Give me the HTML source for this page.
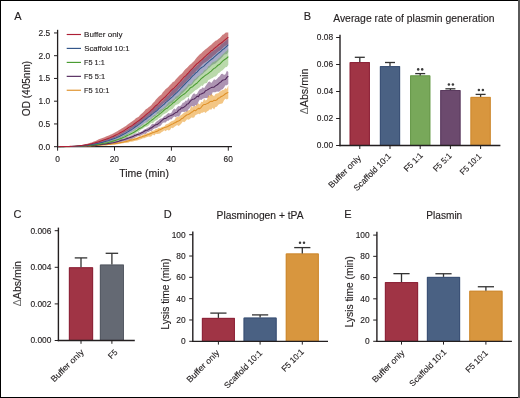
<!DOCTYPE html>
<html><head><meta charset="utf-8"><style>
html,body{margin:0;padding:0;background:#fff;}
body{width:520px;height:398px;overflow:hidden;}
svg{display:block;will-change:transform;font-family:"Liberation Sans", sans-serif;fill:#231f20;}
text{stroke:#231f20;stroke-width:0.14px;}
.dl{fill:#6a6a6a;stroke:none;}
</style></head><body>
<svg width="520" height="398" viewBox="0 0 520 398">
<rect x="0" y="0" width="520" height="398" fill="#fff"/>
<g fill="#231f20" stroke-linejoin="round">
<line x1="57.6" y1="29.8" x2="57.6" y2="147.39999999999998" stroke="#231f20" stroke-width="1.3"/>
<line x1="57.0" y1="146.7" x2="232" y2="146.7" stroke="#231f20" stroke-width="1.3"/>
<defs><clipPath id="ca"><rect x="58.2" y="32.6" width="172" height="115"/></clipPath></defs>
<g clip-path="url(#ca)">
<polygon points="57.60,146.70 59.02,146.65 60.45,146.60 61.87,146.56 63.29,146.52 64.71,146.48 66.14,146.43 67.56,146.38 68.98,146.32 70.40,146.25 71.83,146.17 73.25,146.07 74.67,145.94 76.09,145.78 77.52,145.59 78.94,145.38 80.36,145.16 81.78,144.91 83.20,144.63 84.63,144.35 86.05,144.05 87.47,143.74 88.90,143.31 90.32,142.87 91.74,142.41 93.16,141.87 94.59,141.24 96.01,140.64 97.43,140.02 98.85,139.36 100.28,138.84 101.70,138.31 103.12,137.79 104.54,137.20 105.97,136.61 107.39,136.05 108.81,135.48 110.23,134.83 111.66,134.15 113.08,133.54 114.50,132.84 115.92,131.96 117.34,131.20 118.77,130.36 120.19,129.44 121.61,128.57 123.03,127.69 124.46,126.71 125.88,125.92 127.30,124.82 128.72,123.79 130.15,122.76 131.57,121.81 132.99,120.82 134.42,119.70 135.84,118.32 137.26,117.42 138.68,116.78 140.11,115.12 141.53,113.66 142.95,112.42 144.37,110.99 145.80,109.35 147.22,108.61 148.64,107.30 150.06,106.37 151.49,104.98 152.91,103.07 154.33,101.68 155.75,99.79 157.18,98.33 158.60,96.72 160.02,95.45 161.44,94.38 162.87,92.31 164.29,90.72 165.71,89.06 167.13,88.10 168.56,86.63 169.98,85.06 171.40,83.85 172.82,82.04 174.25,81.43 175.67,79.42 177.09,78.11 178.51,76.56 179.94,74.95 181.36,73.90 182.78,72.62 184.20,70.51 185.62,68.98 187.05,67.68 188.47,66.31 189.89,64.63 191.31,63.71 192.74,62.29 194.16,60.94 195.58,59.05 197.00,57.21 198.43,55.70 199.85,54.26 201.27,53.29 202.69,51.84 204.12,50.47 205.54,49.22 206.96,48.16 208.38,46.98 209.81,45.87 211.23,44.84 212.65,43.16 214.08,41.97 215.50,40.85 216.92,40.34 218.34,39.03 219.77,38.02 221.19,36.46 222.61,34.64 224.03,34.22 225.46,32.40 226.88,31.45 228.30,30.40 228.30,43.64 226.88,45.32 225.46,45.65 224.03,46.68 222.61,48.14 221.19,49.68 219.77,50.78 218.34,51.45 216.92,52.77 215.50,54.20 214.08,55.24 212.65,56.46 211.23,57.93 209.81,58.72 208.38,60.16 206.96,61.17 205.54,62.15 204.12,63.11 202.69,64.30 201.27,65.79 199.85,67.35 198.43,68.93 197.00,70.33 195.58,71.71 194.16,73.48 192.74,74.56 191.31,76.24 189.89,78.08 188.47,79.37 187.05,80.57 185.62,82.57 184.20,83.81 182.78,85.45 181.36,86.83 179.94,87.87 178.51,89.22 177.09,91.18 175.67,92.83 174.25,94.07 172.82,95.17 171.40,96.11 169.98,97.74 168.56,99.28 167.13,100.78 165.71,101.62 164.29,102.82 162.87,104.12 161.44,105.13 160.02,106.66 158.60,108.11 157.18,109.45 155.75,110.88 154.33,112.04 152.91,112.74 151.49,114.59 150.06,115.25 148.64,116.48 147.22,117.80 145.80,119.09 144.37,119.77 142.95,121.06 141.53,122.20 140.11,123.35 138.68,123.90 137.26,125.05 135.84,126.28 134.42,126.77 132.99,127.73 131.57,128.81 130.15,129.74 128.72,130.56 127.30,131.34 125.88,132.04 124.46,132.72 123.03,133.67 121.61,134.57 120.19,135.22 118.77,135.96 117.34,136.66 115.92,137.34 114.50,137.94 113.08,138.53 111.66,139.22 110.23,139.80 108.81,140.19 107.39,140.70 105.97,141.20 104.54,141.71 103.12,142.13 101.70,142.64 100.28,143.00 98.85,143.24 97.43,143.55 96.01,143.82 94.59,144.16 93.16,144.46 91.74,144.72 90.32,144.89 88.90,145.16 87.47,145.32 86.05,145.47 84.63,145.60 83.20,145.73 81.78,145.88 80.36,145.99 78.94,146.10 77.52,146.19 76.09,146.27 74.67,146.35 73.25,146.40 71.83,146.45 70.40,146.49 68.98,146.52 67.56,146.55 66.14,146.57 64.71,146.60 63.29,146.61 61.87,146.63 60.45,146.66 59.02,146.68 57.60,146.70" fill="rgba(172,40,40,0.6)"/>
<polygon points="57.60,146.70 59.02,146.67 60.45,146.63 61.87,146.61 63.29,146.58 64.71,146.55 66.14,146.51 67.56,146.48 68.98,146.44 70.40,146.40 71.83,146.34 73.25,146.27 74.67,146.18 76.09,146.07 77.52,145.94 78.94,145.80 80.36,145.63 81.78,145.47 83.20,145.29 84.63,145.10 86.05,144.90 87.47,144.68 88.90,144.43 90.32,144.15 91.74,143.83 93.16,143.51 94.59,143.22 96.01,142.80 97.43,142.45 98.85,141.98 100.28,141.66 101.70,141.26 103.12,140.80 104.54,140.26 105.97,139.68 107.39,139.05 108.81,138.65 110.23,138.15 111.66,137.73 113.08,137.11 114.50,136.56 115.92,135.91 117.34,135.46 118.77,134.72 120.19,133.95 121.61,132.97 123.03,132.23 124.46,131.22 125.88,130.57 127.30,129.73 128.72,128.67 130.15,127.35 131.57,126.62 132.99,125.84 134.42,124.31 135.84,123.39 137.26,122.52 138.68,121.20 140.11,119.79 141.53,118.77 142.95,117.87 144.37,117.04 145.80,115.77 147.22,114.16 148.64,113.36 150.06,111.72 151.49,110.51 152.91,109.03 154.33,107.43 155.75,107.02 157.18,105.14 158.60,104.83 160.02,103.44 161.44,101.96 162.87,101.06 164.29,99.14 165.71,97.73 167.13,96.12 168.56,95.21 169.98,93.60 171.40,91.48 172.82,89.60 174.25,88.96 175.67,87.88 177.09,86.12 178.51,84.80 179.94,83.09 181.36,81.44 182.78,80.15 184.20,78.45 185.62,76.72 187.05,74.69 188.47,73.70 189.89,71.93 191.31,70.70 192.74,69.02 194.16,67.90 195.58,67.09 197.00,65.56 198.43,64.40 199.85,62.54 201.27,61.43 202.69,59.82 204.12,58.55 205.54,57.49 206.96,56.28 208.38,54.64 209.81,53.39 211.23,52.21 212.65,51.32 214.08,50.20 215.50,49.45 216.92,47.90 218.34,46.81 219.77,46.13 221.19,44.22 222.61,43.37 224.03,42.30 225.46,40.89 226.88,40.09 228.30,38.26 228.30,52.03 226.88,53.93 225.46,54.13 224.03,54.76 222.61,56.76 221.19,58.16 219.77,59.53 218.34,60.70 216.92,61.96 215.50,63.47 214.08,64.06 212.65,64.84 211.23,65.75 209.81,67.59 208.38,68.19 206.96,69.98 205.54,71.32 204.12,72.39 202.69,74.05 201.27,75.10 199.85,76.09 198.43,77.49 197.00,79.24 195.58,80.32 194.16,81.70 192.74,83.87 191.31,85.14 189.89,85.97 188.47,86.74 187.05,88.87 185.62,90.32 184.20,91.59 182.78,93.11 181.36,93.94 179.94,95.67 178.51,97.15 177.09,98.54 175.67,99.08 174.25,100.59 172.82,102.40 171.40,103.09 169.98,103.97 168.56,105.60 167.13,106.50 165.71,107.78 164.29,108.85 162.87,110.03 161.44,111.45 160.02,112.29 158.60,113.70 157.18,113.89 155.75,115.46 154.33,116.46 152.91,117.29 151.49,118.75 150.06,119.84 148.64,121.04 147.22,121.96 145.80,122.63 144.37,123.36 142.95,124.70 141.53,125.83 140.11,126.88 138.68,127.90 137.26,128.51 135.84,129.39 134.42,130.41 132.99,131.28 131.57,132.05 130.15,133.08 128.72,133.76 127.30,134.63 125.88,135.39 124.46,136.06 123.03,136.82 121.61,137.46 120.19,138.22 118.77,138.85 117.34,139.54 115.92,140.05 114.50,140.49 113.08,141.07 111.66,141.58 110.23,141.95 108.81,142.41 107.39,142.71 105.97,143.07 104.54,143.44 103.12,143.68 101.70,143.84 100.28,144.05 98.85,144.30 97.43,144.44 96.01,144.70 94.59,144.91 93.16,145.10 91.74,145.25 90.32,145.38 88.90,145.51 87.47,145.65 86.05,145.78 84.63,145.86 83.20,145.96 81.78,146.04 80.36,146.15 78.94,146.23 77.52,146.30 76.09,146.37 74.67,146.43 73.25,146.48 71.83,146.52 70.40,146.55 68.98,146.57 67.56,146.59 66.14,146.60 64.71,146.62 63.29,146.64 61.87,146.65 60.45,146.67 59.02,146.68 57.60,146.70" fill="rgba(80,85,145,0.5)"/>
<polygon points="57.60,146.70 59.02,146.67 60.45,146.65 61.87,146.63 63.29,146.60 64.71,146.58 66.14,146.55 67.56,146.52 68.98,146.49 70.40,146.46 71.83,146.42 73.25,146.36 74.67,146.30 76.09,146.23 77.52,146.15 78.94,146.06 80.36,145.96 81.78,145.85 83.20,145.73 84.63,145.60 86.05,145.47 87.47,145.31 88.90,145.17 90.32,144.98 91.74,144.78 93.16,144.62 94.59,144.38 96.01,144.14 97.43,143.88 98.85,143.61 100.28,143.25 101.70,143.01 103.12,142.74 104.54,142.36 105.97,142.04 107.39,141.70 108.81,141.33 110.23,140.91 111.66,140.33 113.08,139.93 114.50,139.53 115.92,139.14 117.34,138.70 118.77,138.18 120.19,137.33 121.61,136.71 123.03,135.92 124.46,135.04 125.88,134.69 127.30,133.75 128.72,133.10 130.15,132.46 131.57,131.65 132.99,130.63 134.42,129.74 135.84,128.75 137.26,127.78 138.68,126.90 140.11,126.19 141.53,124.92 142.95,124.19 144.37,123.33 145.80,122.65 147.22,120.77 148.64,119.38 150.06,119.23 151.49,118.07 152.91,116.34 154.33,114.88 155.75,115.02 157.18,112.03 158.60,111.40 160.02,109.81 161.44,109.28 162.87,108.80 164.29,107.27 165.71,106.17 167.13,104.16 168.56,102.29 169.98,101.69 171.40,101.05 172.82,99.77 174.25,98.89 175.67,96.83 177.09,95.91 178.51,95.28 179.94,93.50 181.36,91.39 182.78,90.42 184.20,89.23 185.62,87.96 187.05,86.50 188.47,84.00 189.89,84.46 191.31,84.05 192.74,81.81 194.16,79.60 195.58,78.81 197.00,77.23 198.43,75.99 199.85,75.19 201.27,73.50 202.69,72.67 204.12,70.21 205.54,69.75 206.96,68.88 208.38,65.88 209.81,65.85 211.23,63.84 212.65,62.36 214.08,61.75 215.50,61.06 216.92,60.28 218.34,58.44 219.77,57.47 221.19,55.95 222.61,54.59 224.03,53.22 225.46,51.82 226.88,50.82 228.30,48.59 228.30,64.81 226.88,67.08 225.46,67.16 224.03,68.67 222.61,70.18 221.19,71.04 219.77,72.62 218.34,73.25 216.92,75.14 215.50,76.55 214.08,76.79 212.65,77.90 211.23,78.61 209.81,79.40 208.38,80.08 206.96,82.97 205.54,83.27 204.12,83.78 202.69,85.95 201.27,85.50 199.85,87.26 198.43,88.28 197.00,89.58 195.58,90.09 194.16,91.33 192.74,92.40 191.31,93.73 189.89,94.82 188.47,97.40 187.05,96.89 185.62,98.30 184.20,99.43 182.78,100.34 181.36,101.09 179.94,102.70 178.51,104.01 177.09,104.58 175.67,105.12 174.25,106.84 172.82,108.78 171.40,109.44 169.98,109.95 168.56,111.06 167.13,112.41 165.71,113.27 164.29,114.07 162.87,114.84 161.44,116.45 160.02,117.77 158.60,118.23 157.18,119.95 155.75,120.48 154.33,121.50 152.91,123.33 151.49,123.10 150.06,124.08 148.64,125.44 147.22,126.44 145.80,126.81 144.37,127.43 142.95,128.70 141.53,129.20 140.11,130.46 138.68,131.69 137.26,132.06 135.84,133.19 134.42,133.85 132.99,134.58 131.57,135.39 130.15,135.80 128.72,136.44 127.30,137.27 125.88,138.02 124.46,138.48 123.03,139.17 121.61,139.54 120.19,140.13 118.77,140.62 117.34,141.16 115.92,141.61 114.50,142.08 113.08,142.53 111.66,142.55 110.23,142.97 108.81,143.26 107.39,143.50 105.97,143.86 104.54,144.03 103.12,144.22 101.70,144.36 100.28,144.65 98.85,144.77 97.43,144.88 96.01,145.03 94.59,145.19 93.16,145.38 91.74,145.51 90.32,145.59 88.90,145.70 87.47,145.78 86.05,145.91 84.63,145.98 83.20,146.07 81.78,146.15 80.36,146.22 78.94,146.29 77.52,146.35 76.09,146.40 74.67,146.45 73.25,146.49 71.83,146.52 70.40,146.55 68.98,146.57 67.56,146.59 66.14,146.61 64.71,146.62 63.29,146.64 61.87,146.65 60.45,146.67 59.02,146.68 57.60,146.70" fill="rgba(110,175,80,0.48)"/>
<polygon points="57.60,146.70 59.02,146.68 60.45,146.66 61.87,146.64 63.29,146.62 64.71,146.60 66.14,146.58 67.56,146.56 68.98,146.54 70.40,146.51 71.83,146.48 73.25,146.45 74.67,146.40 76.09,146.33 77.52,146.30 78.94,146.23 80.36,146.15 81.78,146.09 83.20,146.01 84.63,145.91 86.05,145.80 87.47,145.71 88.90,145.58 90.32,145.46 91.74,145.34 93.16,145.20 94.59,145.09 96.01,144.87 97.43,144.61 98.85,144.41 100.28,144.17 101.70,143.90 103.12,143.74 104.54,143.59 105.97,143.44 107.39,143.19 108.81,142.98 110.23,142.36 111.66,142.09 113.08,141.70 114.50,141.61 115.92,141.10 117.34,140.77 118.77,140.13 120.19,139.47 121.61,138.99 123.03,138.87 124.46,138.58 125.88,137.56 127.30,137.07 128.72,136.73 130.15,136.06 131.57,135.50 132.99,134.79 134.42,133.84 135.84,133.58 137.26,133.36 138.68,131.95 140.11,132.13 141.53,131.39 142.95,130.45 144.37,129.44 145.80,128.95 147.22,127.88 148.64,127.16 150.06,126.42 151.49,124.51 152.91,123.82 154.33,123.95 155.75,122.28 157.18,120.95 158.60,120.13 160.02,118.82 161.44,118.50 162.87,117.67 164.29,115.98 165.71,115.46 167.13,114.10 168.56,113.02 169.98,113.49 171.40,112.70 172.82,110.09 174.25,108.50 175.67,109.48 177.09,107.36 178.51,106.08 179.94,106.37 181.36,105.05 182.78,102.75 184.20,102.42 185.62,100.53 187.05,100.76 188.47,97.69 189.89,100.04 191.31,96.99 192.74,94.49 194.16,93.34 195.58,94.46 197.00,93.70 198.43,91.30 199.85,89.18 201.27,89.11 202.69,87.17 204.12,88.24 205.54,85.88 206.96,83.96 208.38,82.07 209.81,81.38 211.23,83.00 212.65,81.16 214.08,79.23 215.50,79.98 216.92,78.91 218.34,77.34 219.77,76.17 221.19,74.12 222.61,73.74 224.03,75.02 225.46,74.28 226.88,70.87 228.30,71.94 228.30,84.08 226.88,85.23 225.46,85.35 224.03,87.58 222.61,89.29 221.19,89.86 219.77,91.18 218.34,91.72 216.92,91.42 215.50,92.27 214.08,92.23 212.65,92.21 211.23,96.23 209.81,95.02 208.38,97.52 206.96,97.99 205.54,97.93 204.12,98.22 202.69,98.86 201.27,100.05 199.85,99.53 198.43,101.89 197.00,105.78 195.58,105.00 194.16,106.87 192.74,106.33 191.31,106.12 189.89,107.92 188.47,109.35 187.05,112.04 185.62,111.47 184.20,111.88 182.78,111.79 181.36,112.33 179.94,115.33 178.51,116.65 177.09,116.35 175.67,117.13 174.25,116.57 172.82,117.63 171.40,119.62 169.98,119.18 168.56,120.74 167.13,120.65 165.71,122.38 164.29,122.52 162.87,122.71 161.44,124.75 160.02,126.18 158.60,126.48 157.18,127.84 155.75,128.37 154.33,128.49 152.91,129.41 151.49,130.88 150.06,130.91 148.64,131.90 147.22,132.37 145.80,133.91 144.37,133.69 142.95,134.53 141.53,135.07 140.11,135.95 138.68,136.00 137.26,136.55 135.84,137.29 134.42,138.03 132.99,138.42 131.57,139.64 130.15,140.09 128.72,139.79 127.30,140.46 125.88,140.89 124.46,141.06 123.03,141.50 121.61,142.13 120.19,142.55 118.77,142.78 117.34,143.11 115.92,143.31 114.50,143.66 113.08,143.91 111.66,143.95 110.23,144.20 108.81,144.13 107.39,144.36 105.97,144.59 104.54,144.88 103.12,144.90 101.70,144.99 100.28,145.18 98.85,145.28 97.43,145.51 96.01,145.66 94.59,145.75 93.16,145.81 91.74,145.87 90.32,145.98 88.90,146.04 87.47,146.11 86.05,146.16 84.63,146.25 83.20,146.30 81.78,146.35 80.36,146.38 78.94,146.41 77.52,146.45 76.09,146.49 74.67,146.51 73.25,146.54 71.83,146.56 70.40,146.58 68.98,146.60 67.56,146.61 66.14,146.63 64.71,146.64 63.29,146.65 61.87,146.66 60.45,146.67 59.02,146.69 57.60,146.70" fill="rgba(105,60,115,0.55)"/>
<polygon points="57.60,146.70 59.02,146.68 60.45,146.67 61.87,146.65 63.29,146.64 64.71,146.63 66.14,146.62 67.56,146.60 68.98,146.59 70.40,146.56 71.83,146.54 73.25,146.51 74.67,146.48 76.09,146.45 77.52,146.41 78.94,146.37 80.36,146.30 81.78,146.25 83.20,146.20 84.63,146.09 86.05,146.04 87.47,145.99 88.90,145.90 90.32,145.78 91.74,145.68 93.16,145.55 94.59,145.42 96.01,145.26 97.43,145.12 98.85,144.91 100.28,144.73 101.70,144.67 103.12,144.48 104.54,144.38 105.97,144.13 107.39,144.06 108.81,143.87 110.23,143.73 111.66,143.47 113.08,143.42 114.50,143.01 115.92,142.79 117.34,142.55 118.77,142.40 120.19,141.90 121.61,141.70 123.03,141.13 124.46,140.98 125.88,140.55 127.30,140.17 128.72,139.48 130.15,138.93 131.57,138.74 132.99,138.53 134.42,137.68 135.84,137.80 137.26,137.33 138.68,136.45 140.11,135.96 141.53,135.39 142.95,135.03 144.37,133.89 145.80,133.89 147.22,133.04 148.64,132.85 150.06,132.31 151.49,130.88 152.91,130.71 154.33,130.29 155.75,129.02 157.18,128.93 158.60,127.75 160.02,128.06 161.44,127.25 162.87,126.72 164.29,126.44 165.71,124.49 167.13,123.97 168.56,123.58 169.98,122.24 171.40,121.19 172.82,120.79 174.25,120.31 175.67,118.06 177.09,116.79 178.51,117.30 179.94,115.64 181.36,114.98 182.78,113.74 184.20,112.41 185.62,111.94 187.05,111.27 188.47,110.24 189.89,109.81 191.31,105.86 192.74,107.46 194.16,106.30 195.58,106.02 197.00,104.75 198.43,103.14 199.85,104.54 201.27,101.84 202.69,101.89 204.12,98.76 205.54,100.57 206.96,99.82 208.38,95.13 209.81,95.91 211.23,94.08 212.65,95.01 214.08,96.23 215.50,94.09 216.92,93.47 218.34,93.27 219.77,91.76 221.19,90.67 222.61,89.92 224.03,89.72 225.46,88.03 226.88,88.94 228.30,85.21 228.30,98.50 226.88,99.43 225.46,98.78 224.03,100.24 222.61,103.24 221.19,103.65 219.77,103.95 218.34,104.84 216.92,106.82 215.50,107.12 214.08,109.45 212.65,107.79 211.23,109.71 209.81,109.33 208.38,110.64 206.96,111.43 205.54,112.92 204.12,111.79 202.69,112.77 201.27,112.76 199.85,114.15 198.43,113.83 197.00,114.48 195.58,114.99 194.16,117.57 192.74,117.70 191.31,117.45 189.89,118.97 188.47,119.71 187.05,119.34 185.62,121.00 184.20,122.29 182.78,121.56 181.36,123.45 179.94,125.01 178.51,125.93 177.09,124.88 175.67,126.09 174.25,127.01 172.82,128.14 171.40,127.66 169.98,130.08 168.56,130.43 167.13,129.63 165.71,131.25 164.29,130.15 162.87,131.39 161.44,132.14 160.02,133.55 158.60,133.86 157.18,133.94 155.75,133.82 154.33,135.38 152.91,134.61 151.49,136.24 150.06,136.73 148.64,136.42 147.22,136.94 145.80,137.53 144.37,138.24 142.95,138.29 141.53,139.11 140.11,139.61 138.68,140.05 137.26,140.60 135.84,140.73 134.42,141.01 132.99,141.47 131.57,141.72 130.15,141.87 128.72,142.44 127.30,142.70 125.88,142.89 124.46,143.04 123.03,143.37 121.61,143.51 120.19,143.77 118.77,143.88 117.34,144.13 115.92,144.43 114.50,144.64 113.08,144.67 111.66,144.75 110.23,144.90 108.81,145.05 107.39,145.14 105.97,145.26 104.54,145.34 103.12,145.38 101.70,145.44 100.28,145.56 98.85,145.70 97.43,145.73 96.01,145.86 94.59,145.91 93.16,145.98 91.74,146.06 90.32,146.14 88.90,146.20 87.47,146.29 86.05,146.32 84.63,146.37 83.20,146.41 81.78,146.41 80.36,146.46 78.94,146.50 77.52,146.51 76.09,146.53 74.67,146.57 73.25,146.59 71.83,146.60 70.40,146.62 68.98,146.63 67.56,146.64 66.14,146.65 64.71,146.66 63.29,146.67 61.87,146.67 60.45,146.68 59.02,146.69 57.60,146.70" fill="rgba(235,160,50,0.6)"/>
<polyline points="57.60,146.70 59.02,146.69 60.45,146.67 61.87,146.66 63.29,146.65 64.71,146.64 66.14,146.63 67.56,146.61 68.98,146.60 70.40,146.58 71.83,146.56 73.25,146.54 74.67,146.52 76.09,146.48 77.52,146.45 78.94,146.41 80.36,146.37 81.78,146.32 83.20,146.27 84.63,146.21 86.05,146.16 87.47,146.08 88.90,146.02 90.32,145.91 91.74,145.81 93.16,145.72 94.59,145.64 96.01,145.51 97.43,145.38 98.85,145.26 100.28,145.10 101.70,144.98 103.12,144.83 104.54,144.75 105.97,144.63 107.39,144.50 108.81,144.33 110.23,144.17 111.66,143.97 113.08,143.82 114.50,143.64 115.92,143.37 117.34,143.22 118.77,142.92 120.19,142.64 121.61,142.40 123.03,142.20 124.46,141.83 125.88,141.50 127.30,141.13 128.72,140.66 130.15,140.30 131.57,140.02 132.99,139.70 134.42,139.30 135.84,138.88 137.26,138.62 138.68,137.74 140.11,137.21 141.53,136.90 142.95,136.32 144.37,135.90 145.80,135.61 147.22,134.79 148.64,134.44 150.06,133.69 151.49,133.35 152.91,132.58 154.33,132.20 155.75,131.63 157.18,131.34 158.60,130.29 160.02,129.64 161.44,129.06 162.87,128.25 164.29,127.61 165.71,127.23 167.13,126.86 168.56,126.01 169.98,125.34 171.40,124.32 172.82,123.91 174.25,123.04 175.67,122.52 177.09,121.47 178.51,120.90 179.94,120.26 181.36,118.85 182.78,118.25 184.20,116.95 185.62,115.78 187.05,114.80 188.47,114.49 189.89,113.55 191.31,112.32 192.74,111.75 194.16,110.18 195.58,110.77 197.00,109.39 198.43,108.38 199.85,108.64 201.27,107.31 202.69,105.40 204.12,104.43 205.54,104.41 206.96,103.65 208.38,102.97 209.81,101.86 211.23,101.34 212.65,101.47 214.08,100.16 215.50,100.52 216.92,99.81 218.34,98.20 219.77,97.66 221.19,96.49 222.61,95.90 224.03,94.95 225.46,93.73 226.88,93.06 228.30,92.39" fill="none" stroke="#df9028" stroke-width="1.05" stroke-linejoin="round"/>
<polyline points="57.60,146.70 59.02,146.68 60.45,146.67 61.87,146.65 63.29,146.64 64.71,146.62 66.14,146.60 67.56,146.58 68.98,146.57 70.40,146.55 71.83,146.52 73.25,146.48 74.67,146.45 76.09,146.41 77.52,146.37 78.94,146.31 80.36,146.24 81.78,146.18 83.20,146.12 84.63,146.05 86.05,145.97 87.47,145.89 88.90,145.82 90.32,145.68 91.74,145.52 93.16,145.44 94.59,145.28 96.01,145.17 97.43,145.00 98.85,144.77 100.28,144.63 101.70,144.48 103.12,144.30 104.54,144.12 105.97,143.88 107.39,143.63 108.81,143.39 110.23,143.15 111.66,142.91 113.08,142.73 114.50,142.44 115.92,142.08 117.34,141.65 118.77,141.32 120.19,140.85 121.61,140.37 123.03,139.95 124.46,139.60 125.88,139.09 127.30,138.54 128.72,138.05 130.15,137.39 131.57,136.95 132.99,136.61 134.42,135.59 135.84,135.27 137.26,134.55 138.68,134.14 140.11,133.62 141.53,132.81 142.95,132.17 144.37,131.24 145.80,130.30 147.22,130.18 148.64,129.62 150.06,128.26 151.49,127.88 152.91,126.78 154.33,125.63 155.75,124.78 157.18,124.60 158.60,123.38 160.02,122.37 161.44,120.80 162.87,119.62 164.29,118.48 165.71,118.58 167.13,117.41 168.56,116.54 169.98,115.89 171.40,115.28 172.82,114.74 174.25,113.59 175.67,112.59 177.09,112.33 178.51,110.12 179.94,109.59 181.36,107.85 182.78,107.86 184.20,106.96 185.62,105.85 187.05,104.09 188.47,103.64 189.89,101.67 191.31,100.14 192.74,99.16 194.16,98.98 195.58,97.78 197.00,96.33 198.43,96.61 199.85,94.34 201.27,94.05 202.69,93.25 204.12,92.67 205.54,90.75 206.96,90.13 208.38,89.29 209.81,88.36 211.23,87.59 212.65,87.35 214.08,87.15 215.50,85.89 216.92,85.02 218.34,83.99 219.77,82.58 221.19,81.71 222.61,80.16 224.03,79.86 225.46,79.39 226.88,77.40 228.30,76.05" fill="none" stroke="#52285c" stroke-width="1.05" stroke-linejoin="round"/>
<polyline points="57.60,146.70 59.02,146.68 60.45,146.66 61.87,146.64 63.29,146.62 64.71,146.60 66.14,146.58 67.56,146.56 68.98,146.54 70.40,146.51 71.83,146.48 73.25,146.43 74.67,146.38 76.09,146.32 77.52,146.25 78.94,146.18 80.36,146.09 81.78,145.99 83.20,145.89 84.63,145.80 86.05,145.70 87.47,145.59 88.90,145.46 90.32,145.32 91.74,145.15 93.16,144.98 94.59,144.80 96.01,144.59 97.43,144.38 98.85,144.14 100.28,143.95 101.70,143.72 103.12,143.47 104.54,143.23 105.97,142.94 107.39,142.64 108.81,142.30 110.23,141.92 111.66,141.59 113.08,141.13 114.50,140.74 115.92,140.33 117.34,139.81 118.77,139.31 120.19,138.70 121.61,138.17 123.03,137.56 124.46,136.92 125.88,136.23 127.30,135.52 128.72,134.88 130.15,134.16 131.57,133.43 132.99,132.73 134.42,131.94 135.84,131.05 137.26,130.21 138.68,129.01 140.11,128.30 141.53,127.68 142.95,126.58 144.37,125.54 145.80,124.76 147.22,123.59 148.64,122.72 150.06,121.42 151.49,120.29 152.91,119.30 154.33,118.04 155.75,116.93 157.18,115.95 158.60,114.90 160.02,113.65 161.44,112.65 162.87,111.34 164.29,109.97 165.71,108.82 167.13,108.26 168.56,106.86 169.98,105.70 171.40,104.58 172.82,103.16 174.25,102.26 175.67,100.91 177.09,99.67 178.51,98.45 179.94,97.11 181.36,95.88 182.78,94.85 184.20,94.04 185.62,92.81 187.05,91.40 188.47,90.11 189.89,88.21 191.31,87.20 192.74,86.69 194.16,85.24 195.58,84.05 197.00,83.25 198.43,81.53 199.85,80.15 201.27,78.58 202.69,77.49 204.12,76.35 205.54,75.17 206.96,74.41 208.38,73.33 209.81,72.20 211.23,71.12 212.65,69.68 214.08,68.37 215.50,67.72 216.92,66.25 218.34,64.93 219.77,64.20 221.19,62.60 222.61,61.15 224.03,59.95 225.46,59.02 226.88,57.99 228.30,56.69" fill="none" stroke="#4a9c32" stroke-width="1.05" stroke-linejoin="round"/>
<polyline points="57.60,146.70 59.02,146.67 60.45,146.65 61.87,146.63 63.29,146.61 64.71,146.58 66.14,146.56 67.56,146.53 68.98,146.50 70.40,146.47 71.83,146.43 73.25,146.37 74.67,146.30 76.09,146.22 77.52,146.13 78.94,146.02 80.36,145.89 81.78,145.76 83.20,145.61 84.63,145.47 86.05,145.33 87.47,145.16 88.90,144.97 90.32,144.77 91.74,144.55 93.16,144.30 94.59,144.02 96.01,143.74 97.43,143.44 98.85,143.15 100.28,142.82 101.70,142.48 103.12,142.17 104.54,141.78 105.97,141.36 107.39,140.98 108.81,140.55 110.23,140.04 111.66,139.55 113.08,139.04 114.50,138.50 115.92,137.94 117.34,137.32 118.77,136.66 120.19,135.98 121.61,135.24 123.03,134.48 124.46,133.74 125.88,132.95 127.30,132.12 128.72,131.29 130.15,130.31 131.57,129.66 132.99,128.58 134.42,127.49 135.84,126.53 137.26,125.69 138.68,124.60 140.11,123.56 141.53,122.60 142.95,121.40 144.37,120.15 145.80,119.25 147.22,118.08 148.64,116.92 150.06,115.98 151.49,114.76 152.91,113.70 154.33,112.36 155.75,111.53 157.18,110.39 158.60,108.78 160.02,107.67 161.44,106.43 162.87,105.13 164.29,104.08 165.71,102.45 167.13,101.40 168.56,100.19 169.98,98.77 171.40,97.53 172.82,96.33 174.25,94.87 175.67,93.51 177.09,92.30 178.51,90.98 179.94,89.29 181.36,87.76 182.78,86.37 184.20,84.94 185.62,83.36 187.05,81.93 188.47,80.45 189.89,79.05 191.31,77.36 192.74,75.96 194.16,74.62 195.58,73.05 197.00,72.13 198.43,70.40 199.85,68.84 201.27,67.76 202.69,66.88 204.12,65.80 205.54,64.31 206.96,63.13 208.38,61.93 209.81,60.66 211.23,59.51 212.65,58.55 214.08,57.11 215.50,55.89 216.92,54.54 218.34,53.38 219.77,52.29 221.19,51.10 222.61,49.66 224.03,48.80 225.46,47.44 226.88,46.25 228.30,44.68" fill="none" stroke="#33568a" stroke-width="1.05" stroke-linejoin="round"/>
<polyline points="57.60,146.70 59.02,146.67 60.45,146.63 61.87,146.60 63.29,146.58 64.71,146.55 66.14,146.51 67.56,146.48 68.98,146.44 70.40,146.39 71.83,146.34 73.25,146.27 74.67,146.18 76.09,146.07 77.52,145.94 78.94,145.80 80.36,145.63 81.78,145.46 83.20,145.27 84.63,145.09 86.05,144.88 87.47,144.65 88.90,144.39 90.32,144.06 91.74,143.71 93.16,143.33 94.59,142.94 96.01,142.52 97.43,142.13 98.85,141.68 100.28,141.22 101.70,140.76 103.12,140.30 104.54,139.81 105.97,139.33 107.39,138.79 108.81,138.18 110.23,137.63 111.66,136.99 113.08,136.45 114.50,135.75 115.92,135.08 117.34,134.38 118.77,133.62 120.19,132.73 121.61,131.98 123.03,131.16 124.46,130.44 125.88,129.43 127.30,128.47 128.72,127.41 130.15,126.61 131.57,125.91 132.99,124.93 134.42,123.77 135.84,122.79 137.26,121.64 138.68,120.77 140.11,119.61 141.53,118.47 142.95,117.36 144.37,116.23 145.80,114.91 147.22,113.66 148.64,112.67 150.06,111.43 151.49,109.86 152.91,108.73 154.33,107.23 155.75,105.70 157.18,104.75 158.60,103.34 160.02,101.65 161.44,100.13 162.87,98.98 164.29,97.55 165.71,96.46 167.13,94.75 168.56,93.33 169.98,91.73 171.40,90.23 172.82,88.86 174.25,87.83 175.67,86.26 177.09,84.82 178.51,83.26 179.94,81.76 181.36,80.07 182.78,78.49 184.20,76.97 185.62,75.78 187.05,74.25 188.47,72.87 189.89,71.17 191.31,69.73 192.74,68.24 194.16,66.70 195.58,65.17 197.00,63.65 198.43,62.70 199.85,61.28 201.27,60.14 202.69,58.80 204.12,57.40 205.54,56.20 206.96,54.75 208.38,53.70 209.81,52.41 211.23,50.82 212.65,50.20 214.08,48.66 215.50,47.50 216.92,46.37 218.34,45.01 219.77,43.98 221.19,43.03 222.61,41.98 224.03,40.56 225.46,39.53 226.88,38.39 228.30,37.20" fill="none" stroke="#ad1f35" stroke-width="1.05" stroke-linejoin="round"/>
</g>
<line x1="54" y1="146.7" x2="57.6" y2="146.7" stroke="#231f20" stroke-width="1"/>
<text x="50.26" y="149.59" font-size="8.4" text-anchor="end">0.0</text>
<line x1="54" y1="123.94999999999999" x2="57.6" y2="123.94999999999999" stroke="#231f20" stroke-width="1"/>
<text x="50.26" y="126.84" font-size="8.4" text-anchor="end">0.5</text>
<line x1="54" y1="101.19999999999999" x2="57.6" y2="101.19999999999999" stroke="#231f20" stroke-width="1"/>
<text x="50.26" y="104.09" font-size="8.4" text-anchor="end">1.0</text>
<line x1="54" y1="78.44999999999999" x2="57.6" y2="78.44999999999999" stroke="#231f20" stroke-width="1"/>
<text x="50.26" y="81.34" font-size="8.4" text-anchor="end">1.5</text>
<line x1="54" y1="55.69999999999999" x2="57.6" y2="55.69999999999999" stroke="#231f20" stroke-width="1"/>
<text x="50.26" y="58.59" font-size="8.4" text-anchor="end">2.0</text>
<line x1="54" y1="32.94999999999999" x2="57.6" y2="32.94999999999999" stroke="#231f20" stroke-width="1"/>
<text x="50.26" y="35.84" font-size="8.4" text-anchor="end">2.5</text>
<line x1="57.6" y1="146.7" x2="57.6" y2="150.7" stroke="#231f20" stroke-width="1"/>
<text x="57.47" y="161.60" font-size="8.4" text-anchor="middle">0</text>
<line x1="114.5" y1="146.7" x2="114.5" y2="150.7" stroke="#231f20" stroke-width="1"/>
<text x="114.37" y="161.60" font-size="8.4" text-anchor="middle">20</text>
<line x1="171.4" y1="146.7" x2="171.4" y2="150.7" stroke="#231f20" stroke-width="1"/>
<text x="171.27" y="161.60" font-size="8.4" text-anchor="middle">40</text>
<line x1="228.3" y1="146.7" x2="228.3" y2="150.7" stroke="#231f20" stroke-width="1"/>
<text x="228.17" y="161.60" font-size="8.4" text-anchor="middle">60</text>
<text x="17.95" y="20.3" font-size="11" text-anchor="middle">A</text>
<text x="144.07" y="176.8" font-size="10" text-anchor="middle" textLength="49.605" lengthAdjust="spacingAndGlyphs">Time (min)</text>
<text x="30.48" y="88.48" font-size="10" text-anchor="middle" textLength="55.416" lengthAdjust="spacingAndGlyphs" transform="rotate(-90 30.48 88.48)">OD (405nm)</text>
<line x1="66.7" y1="34.5" x2="81.0" y2="34.5" stroke="#ad1f35" stroke-width="1.15"/>
<text x="103.25" y="37.2" font-size="8" text-anchor="middle" textLength="38.399" lengthAdjust="spacingAndGlyphs">Buffer only</text>
<line x1="66.7" y1="48.4" x2="81.0" y2="48.4" stroke="#33568a" stroke-width="1.15"/>
<text x="106.85" y="51.1" font-size="8" text-anchor="middle" textLength="45.306" lengthAdjust="spacingAndGlyphs">Scaffold 10:1</text>
<line x1="66.7" y1="62.4" x2="81.0" y2="62.4" stroke="#4a9c32" stroke-width="1.15"/>
<text x="94.38" y="65.0" font-size="8" text-anchor="middle" textLength="20.73" lengthAdjust="spacingAndGlyphs">F5 1:1</text>
<line x1="66.7" y1="76.35" x2="81.0" y2="76.35" stroke="#52285c" stroke-width="1.15"/>
<text x="94.57" y="78.9" font-size="8" text-anchor="middle" textLength="21.13" lengthAdjust="spacingAndGlyphs">F5 5:1</text>
<line x1="66.7" y1="90.25" x2="81.0" y2="90.25" stroke="#df9028" stroke-width="1.15"/>
<text x="96.68" y="92.8" font-size="8" text-anchor="middle" textLength="25.279" lengthAdjust="spacingAndGlyphs">F5 10:1</text>
<text x="307.42" y="20.3" font-size="11" text-anchor="middle">B</text>
<text x="413.85" y="22.3" font-size="10" text-anchor="middle" textLength="161.273" lengthAdjust="spacingAndGlyphs">Average rate of plasmin generation</text>
<rect x="349.7" y="62.1" width="20.200000000000045" height="83.4" fill="#a03445"/>
<path d="M350.2,145.5 V62.6 H369.40000000000003 V145.5" fill="none" stroke="#8c2338" stroke-width="1" stroke-linejoin="miter"/>
<line x1="359.8" y1="62.1" x2="359.8" y2="57.3" stroke="#333" stroke-width="1.3"/>
<line x1="354.8" y1="57.3" x2="364.8" y2="57.3" stroke="#333" stroke-width="1.3"/>
<rect x="379.9" y="66.1" width="20.200000000000045" height="79.4" fill="#4a6183"/>
<path d="M380.4,145.5 V66.6 H399.6 V145.5" fill="none" stroke="#3a5075" stroke-width="1" stroke-linejoin="miter"/>
<line x1="390.0" y1="66.1" x2="390.0" y2="62.5" stroke="#333" stroke-width="1.3"/>
<line x1="385.0" y1="62.5" x2="395.0" y2="62.5" stroke="#333" stroke-width="1.3"/>
<rect x="410.09999999999997" y="75.4" width="20.200000000000045" height="70.1" fill="#78a85a"/>
<path d="M410.59999999999997,145.5 V75.9 H429.8 V145.5" fill="none" stroke="#68994b" stroke-width="1" stroke-linejoin="miter"/>
<line x1="420.2" y1="75.4" x2="420.2" y2="73.6" stroke="#333" stroke-width="1.3"/>
<line x1="415.2" y1="73.6" x2="425.2" y2="73.6" stroke="#333" stroke-width="1.3"/>
<rect x="440.29999999999995" y="90.0" width="20.200000000000045" height="55.5" fill="#6c4a6e"/>
<path d="M440.79999999999995,145.5 V90.5 H460.0 V145.5" fill="none" stroke="#5a3a5e" stroke-width="1" stroke-linejoin="miter"/>
<line x1="450.4" y1="90.0" x2="450.4" y2="88.8" stroke="#333" stroke-width="1.3"/>
<line x1="445.4" y1="88.8" x2="455.4" y2="88.8" stroke="#333" stroke-width="1.3"/>
<rect x="470.5" y="96.9" width="20.200000000000045" height="48.599999999999994" fill="#d8963e"/>
<path d="M471.0,145.5 V97.4 H490.20000000000005 V145.5" fill="none" stroke="#cd8930" stroke-width="1" stroke-linejoin="miter"/>
<line x1="480.6" y1="96.9" x2="480.6" y2="94.4" stroke="#333" stroke-width="1.3"/>
<line x1="475.6" y1="94.4" x2="485.6" y2="94.4" stroke="#333" stroke-width="1.3"/>
<ellipse cx="418.2" cy="69.39999999999999" rx="1.25" ry="1.3" fill="#3c3c3c"/>
<ellipse cx="422.2" cy="69.39999999999999" rx="1.25" ry="1.3" fill="#3c3c3c"/>
<ellipse cx="448.9" cy="84.5" rx="1.25" ry="1.3" fill="#3c3c3c"/>
<ellipse cx="452.9" cy="84.5" rx="1.25" ry="1.3" fill="#3c3c3c"/>
<ellipse cx="478.85" cy="90.0" rx="1.25" ry="1.3" fill="#3c3c3c"/>
<ellipse cx="482.85" cy="90.0" rx="1.25" ry="1.3" fill="#3c3c3c"/>
<line x1="340.0" y1="34.8" x2="340.0" y2="146.2" stroke="#231f20" stroke-width="1.4"/>
<line x1="339.3" y1="145.5" x2="500.4" y2="145.5" stroke="#231f20" stroke-width="1.3"/>
<line x1="336.1" y1="145.5" x2="340.0" y2="145.5" stroke="#231f20" stroke-width="1"/>
<text x="333.16" y="148.39" font-size="8.4" text-anchor="end">0.00</text>
<line x1="336.1" y1="118.5" x2="340.0" y2="118.5" stroke="#231f20" stroke-width="1"/>
<text x="333.16" y="121.39" font-size="8.4" text-anchor="end">0.02</text>
<line x1="336.1" y1="91.5" x2="340.0" y2="91.5" stroke="#231f20" stroke-width="1"/>
<text x="333.16" y="94.39" font-size="8.4" text-anchor="end">0.04</text>
<line x1="336.1" y1="64.5" x2="340.0" y2="64.5" stroke="#231f20" stroke-width="1"/>
<text x="333.16" y="67.39" font-size="8.4" text-anchor="end">0.06</text>
<line x1="336.1" y1="37.5" x2="340.0" y2="37.5" stroke="#231f20" stroke-width="1"/>
<text x="333.16" y="40.39" font-size="8.4" text-anchor="end">0.08</text>
<line x1="359.8" y1="145.5" x2="359.8" y2="149" stroke="#231f20" stroke-width="1"/>
<text x="346.62" y="173.52" font-size="8.5" text-anchor="middle" textLength="42.142" lengthAdjust="spacingAndGlyphs" transform="rotate(-45 346.62 173.52)">Buffer only</text>
<line x1="390.0" y1="145.5" x2="390.0" y2="149" stroke="#231f20" stroke-width="1"/>
<text x="374.3" y="174.08" font-size="8.5" text-anchor="middle" textLength="49.182" lengthAdjust="spacingAndGlyphs" transform="rotate(-45 374.3 174.08)">Scaffold 10:1</text>
<line x1="420.2" y1="145.5" x2="420.2" y2="149" stroke="#231f20" stroke-width="1"/>
<text x="415.3" y="164.08" font-size="8.5" text-anchor="middle" textLength="22.825" lengthAdjust="spacingAndGlyphs" transform="rotate(-45 415.3 164.08)">F5 1:1</text>
<line x1="450.4" y1="145.5" x2="450.4" y2="149" stroke="#231f20" stroke-width="1"/>
<text x="444.35" y="164.4" font-size="8.5" text-anchor="middle" textLength="22.33" lengthAdjust="spacingAndGlyphs" transform="rotate(-45 444.35 164.4)">F5 5:1</text>
<line x1="480.6" y1="145.5" x2="480.6" y2="149" stroke="#231f20" stroke-width="1"/>
<text x="472.65" y="166.2" font-size="8.5" text-anchor="middle" textLength="26.279" lengthAdjust="spacingAndGlyphs" transform="rotate(-45 472.65 166.2)">F5 10:1</text>
<text x="308.45" y="91.45" font-size="10" text-anchor="middle" textLength="45.804" lengthAdjust="spacingAndGlyphs" transform="rotate(-90 308.45 91.45)"><tspan class="dl">Δ</tspan>Abs/min</text>
<text x="17.6" y="217.6" font-size="11" text-anchor="middle">C</text>
<rect x="68.9" y="267.3" width="24.19999999999999" height="73.19999999999999" fill="#a03445"/>
<path d="M69.4,340.5 V267.8 H92.6 V340.5" fill="none" stroke="#8c2338" stroke-width="1" stroke-linejoin="miter"/>
<line x1="81" y1="267.3" x2="81" y2="257.9" stroke="#333" stroke-width="1.3"/>
<line x1="74.75" y1="257.9" x2="87.25" y2="257.9" stroke="#333" stroke-width="1.3"/>
<rect x="99.9" y="264.6" width="24.099999999999994" height="75.89999999999998" fill="#646973"/>
<path d="M100.4,340.5 V265.1 H123.5 V340.5" fill="none" stroke="#555a64" stroke-width="1" stroke-linejoin="miter"/>
<line x1="111.9" y1="264.6" x2="111.9" y2="253.3" stroke="#333" stroke-width="1.3"/>
<line x1="105.65" y1="253.3" x2="118.15" y2="253.3" stroke="#333" stroke-width="1.3"/>
<line x1="58.4" y1="227.6" x2="58.4" y2="341.2" stroke="#231f20" stroke-width="1.4"/>
<line x1="57.699999999999996" y1="340.5" x2="134.8" y2="340.5" stroke="#231f20" stroke-width="1.3"/>
<line x1="54.7" y1="340.5" x2="58.4" y2="340.5" stroke="#231f20" stroke-width="1"/>
<text x="51.36" y="343.39" font-size="8.4" text-anchor="end">0.000</text>
<line x1="54.7" y1="303.9" x2="58.4" y2="303.9" stroke="#231f20" stroke-width="1"/>
<text x="51.36" y="306.79" font-size="8.4" text-anchor="end">0.002</text>
<line x1="54.7" y1="267.3" x2="58.4" y2="267.3" stroke="#231f20" stroke-width="1"/>
<text x="51.36" y="270.19" font-size="8.4" text-anchor="end">0.004</text>
<line x1="54.7" y1="230.7" x2="58.4" y2="230.7" stroke="#231f20" stroke-width="1"/>
<text x="51.36" y="233.59" font-size="8.4" text-anchor="end">0.006</text>
<line x1="81" y1="340.5" x2="81" y2="343.8" stroke="#231f20" stroke-width="1"/>
<text x="69.28" y="367.6" font-size="8.5" text-anchor="middle" textLength="42.495" lengthAdjust="spacingAndGlyphs" transform="rotate(-45 69.28 367.6)">Buffer only</text>
<line x1="111.9" y1="340.5" x2="111.9" y2="343.8" stroke="#231f20" stroke-width="1"/>
<text x="114.8" y="356.15" font-size="8.5" text-anchor="middle" textLength="9.142" lengthAdjust="spacingAndGlyphs" transform="rotate(-45 114.8 356.15)">F5</text>
<text x="21.35" y="283.65" font-size="10" text-anchor="middle" textLength="45.004" lengthAdjust="spacingAndGlyphs" transform="rotate(-90 21.35 283.65)"><tspan class="dl">Δ</tspan>Abs/min</text>
<text x="167.65" y="217.7" font-size="11" text-anchor="middle">D</text>
<text x="260.08" y="219" font-size="10" text-anchor="middle" textLength="86.938" lengthAdjust="spacingAndGlyphs">Plasminogen + tPA</text>
<rect x="201.9" y="317.9" width="33.0" height="23.400000000000034" fill="#a03445"/>
<path d="M202.4,341.3 V318.4 H234.4 V341.3" fill="none" stroke="#8c2338" stroke-width="1" stroke-linejoin="miter"/>
<line x1="218.4" y1="317.9" x2="218.4" y2="313.1" stroke="#333" stroke-width="1.3"/>
<line x1="210.3" y1="313.1" x2="226.5" y2="313.1" stroke="#333" stroke-width="1.3"/>
<rect x="243.60000000000002" y="317.6" width="33.0" height="23.69999999999999" fill="#4a6183"/>
<path d="M244.10000000000002,341.3 V318.1 H276.1 V341.3" fill="none" stroke="#3a5075" stroke-width="1" stroke-linejoin="miter"/>
<line x1="260.1" y1="317.6" x2="260.1" y2="314.9" stroke="#333" stroke-width="1.3"/>
<line x1="252.00000000000003" y1="314.9" x2="268.20000000000005" y2="314.9" stroke="#333" stroke-width="1.3"/>
<rect x="285.8" y="253.5" width="33.0" height="87.80000000000001" fill="#d8963e"/>
<path d="M286.3,341.3 V254.0 H318.3 V341.3" fill="none" stroke="#cd8930" stroke-width="1" stroke-linejoin="miter"/>
<line x1="302.3" y1="253.5" x2="302.3" y2="247.6" stroke="#333" stroke-width="1.3"/>
<line x1="294.2" y1="247.6" x2="310.40000000000003" y2="247.6" stroke="#333" stroke-width="1.3"/>
<ellipse cx="300.0" cy="242.8" rx="1.25" ry="1.3" fill="#3c3c3c"/>
<ellipse cx="304.0" cy="242.8" rx="1.25" ry="1.3" fill="#3c3c3c"/>
<line x1="192.8" y1="231.5" x2="192.8" y2="342.0" stroke="#231f20" stroke-width="1.4"/>
<line x1="192.10000000000002" y1="341.3" x2="328" y2="341.3" stroke="#231f20" stroke-width="1.3"/>
<line x1="189.2" y1="341.3" x2="192.8" y2="341.3" stroke="#231f20" stroke-width="1"/>
<text x="185.66" y="344.19" font-size="8.4" text-anchor="end">0</text>
<line x1="189.2" y1="319.98" x2="192.8" y2="319.98" stroke="#231f20" stroke-width="1"/>
<text x="185.66" y="322.87" font-size="8.4" text-anchor="end">20</text>
<line x1="189.2" y1="298.66" x2="192.8" y2="298.66" stroke="#231f20" stroke-width="1"/>
<text x="185.66" y="301.55" font-size="8.4" text-anchor="end">40</text>
<line x1="189.2" y1="277.34000000000003" x2="192.8" y2="277.34000000000003" stroke="#231f20" stroke-width="1"/>
<text x="185.66" y="280.23" font-size="8.4" text-anchor="end">60</text>
<line x1="189.2" y1="256.02" x2="192.8" y2="256.02" stroke="#231f20" stroke-width="1"/>
<text x="185.66" y="258.91" font-size="8.4" text-anchor="end">80</text>
<line x1="189.2" y1="234.7" x2="192.8" y2="234.7" stroke="#231f20" stroke-width="1"/>
<text x="185.66" y="237.59" font-size="8.4" text-anchor="end">100</text>
<line x1="218.4" y1="341.3" x2="218.4" y2="344.6" stroke="#231f20" stroke-width="1"/>
<text x="205.0" y="368.1" font-size="8.5" text-anchor="middle" textLength="42.354" lengthAdjust="spacingAndGlyphs" transform="rotate(-45 205.0 368.1)">Buffer only</text>
<line x1="260.1" y1="341.3" x2="260.1" y2="344.6" stroke="#231f20" stroke-width="1"/>
<text x="245.15" y="371.3" font-size="8.5" text-anchor="middle" textLength="49.889" lengthAdjust="spacingAndGlyphs" transform="rotate(-45 245.15 371.3)">Scaffold 10:1</text>
<line x1="302.3" y1="341.3" x2="302.3" y2="344.6" stroke="#231f20" stroke-width="1"/>
<text x="294.77" y="362.38" font-size="8.5" text-anchor="middle" textLength="27.623" lengthAdjust="spacingAndGlyphs" transform="rotate(-45 294.77 362.38)">F5 10:1</text>
<text x="168.72" y="294.02" font-size="10" text-anchor="middle" textLength="71.186" lengthAdjust="spacingAndGlyphs" transform="rotate(-90 168.72 294.02)">Lysis time (min)</text>
<text x="347.9" y="217.5" font-size="11" text-anchor="middle">E</text>
<text x="444.3" y="218.9" font-size="10" text-anchor="middle" textLength="35.918" lengthAdjust="spacingAndGlyphs">Plasmin</text>
<rect x="384.9" y="282.1" width="33.200000000000045" height="59.19999999999999" fill="#a03445"/>
<path d="M385.4,341.3 V282.6 H417.6 V341.3" fill="none" stroke="#8c2338" stroke-width="1" stroke-linejoin="miter"/>
<line x1="401.5" y1="282.1" x2="401.5" y2="273.65" stroke="#333" stroke-width="1.3"/>
<line x1="393.4" y1="273.65" x2="409.6" y2="273.65" stroke="#333" stroke-width="1.3"/>
<rect x="426.9" y="276.9" width="33.200000000000045" height="64.40000000000003" fill="#4a6183"/>
<path d="M427.4,341.3 V277.4 H459.6 V341.3" fill="none" stroke="#3a5075" stroke-width="1" stroke-linejoin="miter"/>
<line x1="443.5" y1="276.9" x2="443.5" y2="273.75" stroke="#333" stroke-width="1.3"/>
<line x1="435.4" y1="273.75" x2="451.6" y2="273.75" stroke="#333" stroke-width="1.3"/>
<rect x="469.29999999999995" y="290.75" width="33.200000000000045" height="50.55000000000001" fill="#d8963e"/>
<path d="M469.79999999999995,341.3 V291.25 H502.0 V341.3" fill="none" stroke="#cd8930" stroke-width="1" stroke-linejoin="miter"/>
<line x1="485.9" y1="290.75" x2="485.9" y2="286.75" stroke="#333" stroke-width="1.3"/>
<line x1="477.79999999999995" y1="286.75" x2="494.0" y2="286.75" stroke="#333" stroke-width="1.3"/>
<line x1="376.9" y1="231.7" x2="376.9" y2="342.0" stroke="#231f20" stroke-width="1.4"/>
<line x1="376.2" y1="341.3" x2="511.9" y2="341.3" stroke="#231f20" stroke-width="1.3"/>
<line x1="373.2" y1="341.3" x2="376.9" y2="341.3" stroke="#231f20" stroke-width="1"/>
<text x="369.66" y="344.19" font-size="8.4" text-anchor="end">0</text>
<line x1="373.2" y1="320.06" x2="376.9" y2="320.06" stroke="#231f20" stroke-width="1"/>
<text x="369.66" y="322.95" font-size="8.4" text-anchor="end">20</text>
<line x1="373.2" y1="298.82" x2="376.9" y2="298.82" stroke="#231f20" stroke-width="1"/>
<text x="369.66" y="301.71" font-size="8.4" text-anchor="end">40</text>
<line x1="373.2" y1="277.58" x2="376.9" y2="277.58" stroke="#231f20" stroke-width="1"/>
<text x="369.66" y="280.47" font-size="8.4" text-anchor="end">60</text>
<line x1="373.2" y1="256.34000000000003" x2="376.9" y2="256.34000000000003" stroke="#231f20" stroke-width="1"/>
<text x="369.66" y="259.23" font-size="8.4" text-anchor="end">80</text>
<line x1="373.2" y1="235.10000000000002" x2="376.9" y2="235.10000000000002" stroke="#231f20" stroke-width="1"/>
<text x="369.66" y="237.99" font-size="8.4" text-anchor="end">100</text>
<line x1="401.5" y1="341.3" x2="401.5" y2="344.6" stroke="#231f20" stroke-width="1"/>
<text x="390.25" y="368.22" font-size="8.5" text-anchor="middle" textLength="42.0" lengthAdjust="spacingAndGlyphs" transform="rotate(-45 390.25 368.22)">Buffer only</text>
<line x1="443.5" y1="341.3" x2="443.5" y2="344.6" stroke="#231f20" stroke-width="1"/>
<text x="429.9" y="369.78" font-size="8.5" text-anchor="middle" textLength="48.475" lengthAdjust="spacingAndGlyphs" transform="rotate(-45 429.9 369.78)">Scaffold 10:1</text>
<line x1="485.9" y1="341.3" x2="485.9" y2="344.6" stroke="#231f20" stroke-width="1"/>
<text x="478.67" y="363.48" font-size="8.5" text-anchor="middle" textLength="27.623" lengthAdjust="spacingAndGlyphs" transform="rotate(-45 478.67 363.48)">F5 10:1</text>
<text x="352.68" y="291.73" font-size="10" text-anchor="middle" textLength="71.186" lengthAdjust="spacingAndGlyphs" transform="rotate(-90 352.68 291.73)">Lysis time (min)</text>
</g>
<rect x="0.5" y="0.5" width="518" height="397" fill="none" stroke="#000" stroke-width="1"/>
<rect x="518" y="0" width="2" height="398" fill="#5a5a5a"/>
</svg>
</body></html>
